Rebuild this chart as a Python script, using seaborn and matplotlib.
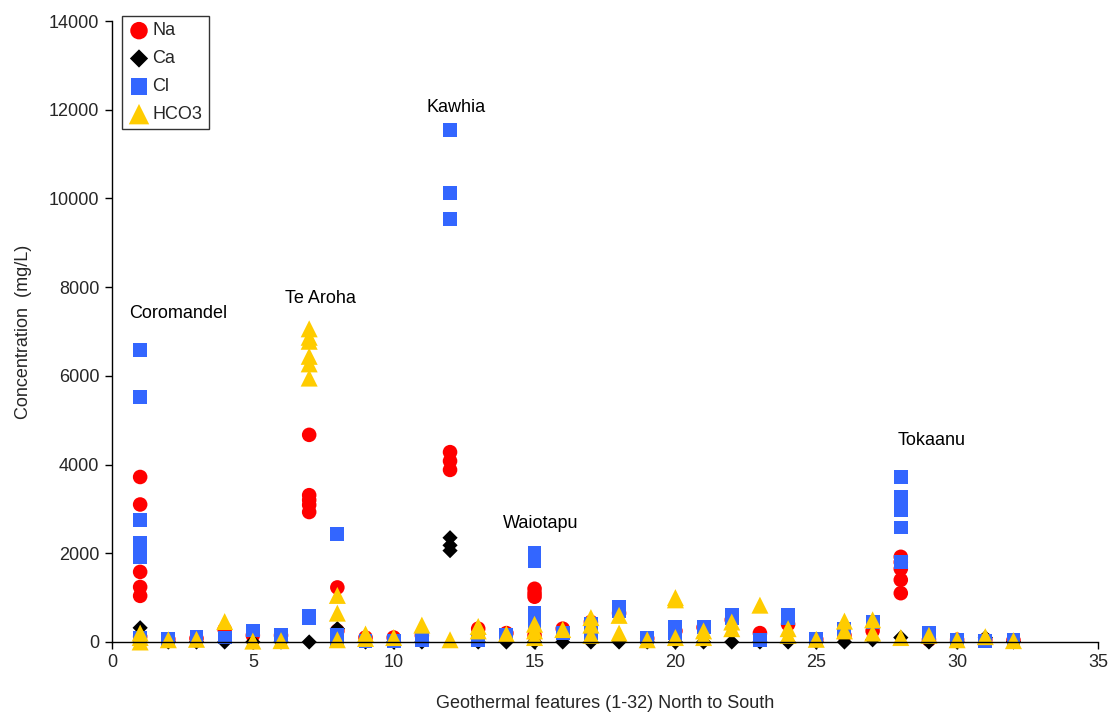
import matplotlib
matplotlib.use("Agg")
import matplotlib.pyplot as plt
import seaborn as sns
import pandas as pd

# ---- data ----
na_feature = [1, 1, 1, 1, 1, 1, 2, 3, 4, 5, 6, 7, 7, 7, 7, 7, 8, 8, 9, 10, 11, 12, 12, 12,
              13, 14, 15, 15, 15, 15, 16, 17, 18, 19, 20, 21, 22, 23, 24, 25, 26, 27,
              28, 28, 28, 28, 28, 29, 30, 31, 32]
na_value = [3720, 3100, 1580, 1240, 1040, 120, 60, 80, 280, 150, 150, 4670, 3310, 3200, 3090, 2930,
            1230, 250, 100, 100, 150, 4280, 4080, 3880,
            300, 200, 1200, 1100, 1020, 150, 300, 450, 650, 80, 250, 330, 500, 200, 400, 60, 150, 250,
            1920, 1800, 1650, 1400, 1100, 50, 50, 50, 40]

ca_feature = [1, 2, 3, 4, 5, 6, 7, 8, 9, 10, 11, 12, 12, 12, 13, 14, 15, 16, 17, 18, 19, 20,
              21, 22, 23, 24, 25, 26, 27, 28, 29, 30, 31, 32]
ca_value = [320, 0, 0, 0, 0, 0, 0, 300, 0, 0, 0, 2350, 2180, 2060, 0, 0, 0, 0, 0, 0, 0, 0,
            0, 0, 0, 0, 0, 0, 50, 100, 0, 0, 100, 0]

cl_feature = [1, 1, 1, 1, 1, 1, 2, 3, 4, 5, 6, 7, 7, 8, 8, 8, 9, 10, 11, 12, 12, 12, 13, 14,
              15, 15, 15, 15, 15, 16, 17, 17, 18, 18, 19, 20, 20, 21, 22, 22, 23, 24, 24, 25,
              26, 27, 28, 28, 28, 28, 28, 28, 28, 29, 30, 31, 32]
cl_value = [6580, 5530, 2760, 2230, 1920, 100, 60, 120, 100, 260, 160, 590, 550, 2440, 150, 50,
            30, 20, 50, 11550, 10130, 9530, 50, 150,
            2000, 1920, 1830, 650, 450, 200, 400, 200, 800, 700, 100, 350, 200, 330, 600, 550, 50,
            620, 550, 60, 300, 450, 3710, 3270, 3170, 3050, 2970, 2580, 1800, 200, 40, 30, 50]

hco3_feature = [1, 1, 1, 2, 3, 4, 5, 6, 7, 7, 7, 7, 7, 7, 8, 8, 8, 9, 9, 10, 11, 12, 13, 13,
                14, 15, 15, 15, 16, 17, 17, 17, 18, 18, 19, 20, 20, 20, 21, 21, 22, 22, 23,
                24, 24, 25, 26, 26, 27, 27, 28, 29, 30, 31, 32]
hco3_value = [200, 100, 0, 50, 60, 460, 20, 30, 7060, 6870, 6780, 6440, 6270, 5950, 1050, 650, 50,
              180, 80, 100, 380, 50, 350, 250,
              180, 400, 250, 100, 280, 550, 380, 150, 600, 200, 50, 1000, 950, 100, 250, 100,
              450, 300, 830, 300, 150, 60, 470, 250, 500, 200, 100, 150, 50, 120, 30]

labels = ["Coromandel", "Te Aroha", "Kawhia", "Waiotapu", "Tokaanu"]
label_x = [2.35, 7.4, 12.2, 15.2, 29.1]
label_y = [7400, 7750, 12050, 2680, 4540]

x_ticks = [0, 5, 10, 15, 20, 25, 30, 35]
y_ticks = [0, 2000, 4000, 6000, 8000, 10000, 12000, 14000]

# ---- plotting ----
sns.set_theme(style="white")
plt.rcParams["font.family"] = ["Liberation Sans", "DejaVu Sans"]

fig = plt.figure(figsize=(11.12, 7.13), dpi=100)
ax = fig.add_axes([0.1007, 0.0996, 0.8867, 0.8709])

series = [
    ("Na", na_feature, na_value, "o", "#FF0000", 110),
    ("Ca", ca_feature, ca_value, "D", "#000000", 60),
    ("Cl", cl_feature, cl_value, "s", "#3366FF", 100),
    ("HCO3", hco3_feature, hco3_value, "^", "#FFCC00", 150),
]
for name, xs, ys, mk, col, sz in series:
    df = pd.DataFrame({"x": xs, "y": ys})
    sns.scatterplot(data=df, x="x", y="y", marker=mk, color=col, s=sz,
                    edgecolor="none", linewidth=0, ax=ax, label=name, clip_on=False)

for t, lx, ly in zip(labels, label_x, label_y):
    ax.text(lx, ly, t, ha="center", va="center", fontsize=13, color="black")

ax.set_xlim(0, 35)
ax.set_ylim(0, 14000)
ax.set_xticks(x_ticks)
ax.set_yticks(y_ticks)
ax.tick_params(axis="both", which="major", labelsize=13, direction="out",
               length=5, width=1, color="black", bottom=True, left=True, pad=4)
for side in ["top", "right"]:
    ax.spines[side].set_visible(False)
for side in ["left", "bottom"]:
    ax.spines[side].set_color("black")
    ax.spines[side].set_linewidth(1)

ax.set_xlabel("Geothermal features (1-32) North to South", fontsize=13, labelpad=17)
ax.set_ylabel("Concentration  (mg/L)", fontsize=13, labelpad=12)

leg = ax.legend(loc="upper left", bbox_to_anchor=(0.01, 1.008), fontsize=13,
                frameon=True, fancybox=False, edgecolor="black", handletextpad=0.15,
                borderpad=0.35, labelspacing=0.6, handlelength=1.2, borderaxespad=0,
                markerscale=1.2)
leg.get_frame().set_linewidth(1)

fig.savefig("out.png", dpi=100)
